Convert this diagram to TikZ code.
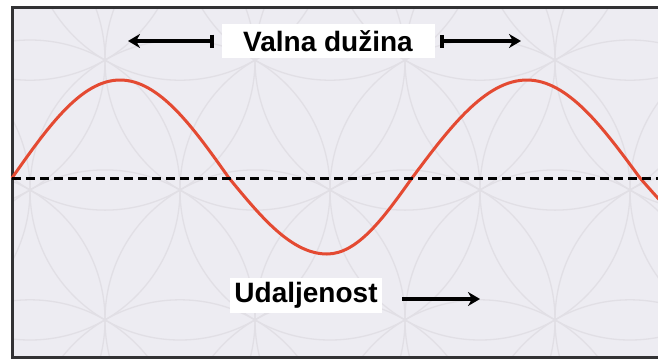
\documentclass[tikz,border=0pt]{standalone}
\usepackage{fontspec}
\setmainfont{Liberation Sans}
\usetikzlibrary{arrows.meta}

\definecolor{paper}{RGB}{237,236,242}
\definecolor{petal}{RGB}{225,223,229}
\definecolor{wavered}{RGB}{228,74,50}
\definecolor{framegray}{RGB}{50,50,52}

\begin{document}
\begin{tikzpicture}[x=1pt, y=-1pt,
    every node/.style={font=\bfseries\fontsize{28}{30}\selectfont},
    labelbox/.style={fill=white, inner sep=0},
    >={Stealth[length=12pt,width=14pt]}]
  \useasboundingbox (0,0) rectangle (658,360);
  \fill[paper] (12,7) rectangle (658,357);

  % faint flower pattern behind the wave
  \begin{scope}
    \clip (12,7) rectangle (658,357);
    \foreach \j in {-2,...,2}
      \foreach \i in {-3,...,3}
        \draw[petal, line width=1.3pt] ({330+150*\i+75*\j},{190+129.9*\j}) circle[radius=150];
  \end{scope}

  \draw[framegray, line width=3pt] (670,7) -- (12,7) -- (12,357) -- (670,357);

  % the wave and its axis
  \draw[wavered, line width=3pt] (12,178) sin (120,80) cos (229,178) sin (327,254)
    cos (412,178) sin (527,80) cos (640,178) sin (745,254);
  \draw[black, line width=3pt, dash pattern=on 9pt off 5pt] (12,178) -- (658,178);

  \node[labelbox, minimum width=213, minimum height=34] (len) at (328,41) {Valna dužina};
  \node[labelbox, minimum width=152, minimum height=35] (dist) at (306,295) {Udaljenost};

  \coordinate (lenTipL) at (128,41);
  \coordinate (lenTipR) at (521,41);
  \coordinate (distTip) at (480,299);

  \draw[{Bar[width=13pt]}->, line width=4pt] ([xshift=-7pt]len.west) -- (lenTipL);
  \draw[{Bar[width=13pt]}->, line width=4pt] ([xshift=5pt]len.east) -- (lenTipR);
  \draw[->, line width=4pt] ([xshift=20pt,yshift=-4pt]dist.east) -- (distTip);
\end{tikzpicture}
\end{document}
